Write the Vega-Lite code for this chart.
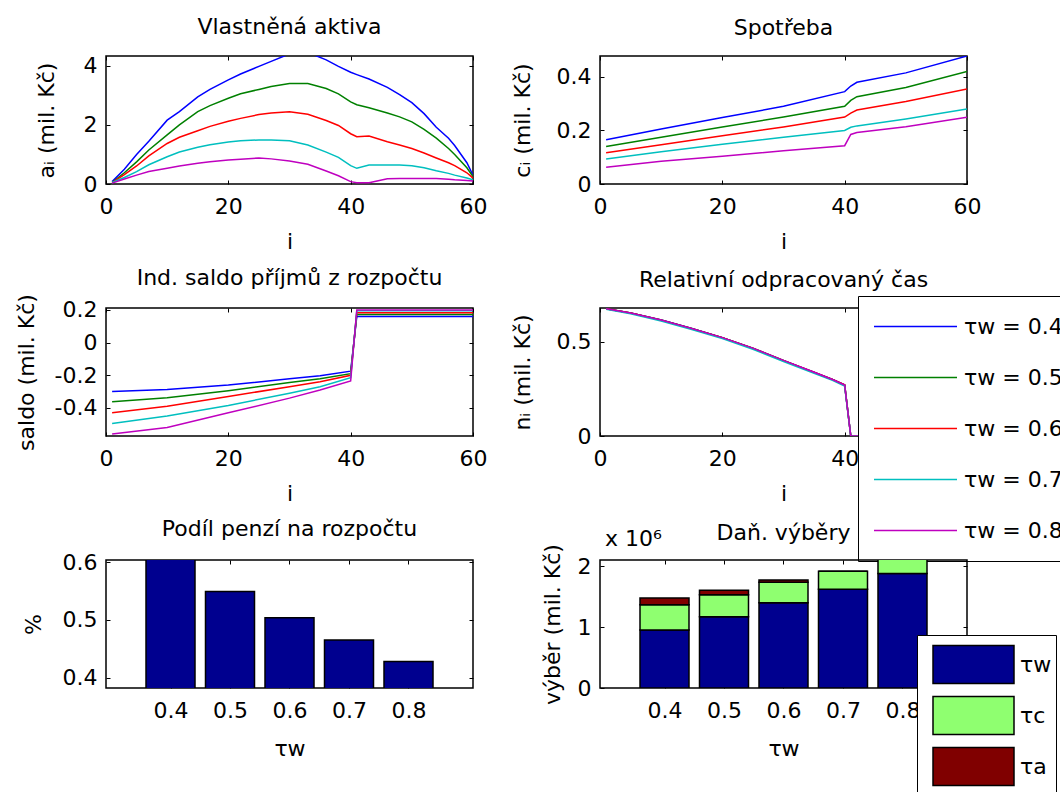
{
  "$schema": "https://vega.github.io/schema/vega-lite/v6.json",
  "autosize": {"type": "none"},
  "padding": {"left": 106, "top": 56, "right": 954, "bottom": 736},
  "background": "white",
  "columns": 2,
  "bounds": "flush",
  "spacing": {"row": 124, "column": 127},
  "config": {
    "font": "DejaVu Sans",
    "view": {"stroke": "black", "strokeWidth": 1.5},
    "axis": {"domain": false, "grid": false, "tickSize": -4, "tickColor": "black", "tickWidth": 1, "labelFont": "DejaVu Sans", "labelFontSize": 22, "labelColor": "black", "titleFont": "DejaVu Sans", "titleFontSize": 22, "titleFontWeight": "normal", "titleColor": "black", "labelFlush": false, "labelOverlap": false, "format": ".1~f"},
    "axisBottom": {"labelPadding": 16, "titleBaseline": "alphabetic", "titleX": 183.5, "titleY": 64},
    "axisLeft": {"labelPadding": 13, "titleBaseline": "alphabetic", "titleY": 64},
    "title": {"font": "DejaVu Sans", "fontSize": 22, "fontWeight": "normal", "color": "black", "baseline": "alphabetic", "frame": "group", "anchor": "middle"}
  },
  "resolve": {"scale": {"color": "independent"}, "legend": {"color": "independent"}},
  "datasets": {
    "A": [
      {"i": 1, "t4": 0.08, "t5": 0.05, "t6": 0.05, "t7": 0.05, "t8": 0.03},
      {"i": 3, "t4": 0.5, "t5": 0.38, "t6": 0.32, "t7": 0.22, "t8": 0.17},
      {"i": 5, "t4": 1.0, "t5": 0.75, "t6": 0.61, "t7": 0.42, "t8": 0.3},
      {"i": 7, "t4": 1.45, "t5": 1.15, "t6": 0.95, "t7": 0.65, "t8": 0.42},
      {"i": 10, "t4": 2.16, "t5": 1.66, "t6": 1.37, "t7": 0.92, "t8": 0.53},
      {"i": 12, "t4": 2.45, "t5": 2.0, "t6": 1.58, "t7": 1.08, "t8": 0.61},
      {"i": 15, "t4": 2.95, "t5": 2.45, "t6": 1.8, "t7": 1.24, "t8": 0.7},
      {"i": 17, "t4": 3.2, "t5": 2.65, "t6": 1.95, "t7": 1.33, "t8": 0.75},
      {"i": 20, "t4": 3.52, "t5": 2.9, "t6": 2.12, "t7": 1.42, "t8": 0.81},
      {"i": 22, "t4": 3.72, "t5": 3.05, "t6": 2.22, "t7": 1.46, "t8": 0.84},
      {"i": 25, "t4": 3.98, "t5": 3.2, "t6": 2.35, "t7": 1.49, "t8": 0.88},
      {"i": 27, "t4": 4.15, "t5": 3.3, "t6": 2.4, "t7": 1.49, "t8": 0.85},
      {"i": 30, "t4": 4.4, "t5": 3.4, "t6": 2.44, "t7": 1.46, "t8": 0.78},
      {"i": 33, "t4": 4.45, "t5": 3.4, "t6": 2.36, "t7": 1.32, "t8": 0.67},
      {"i": 36, "t4": 4.2, "t5": 3.23, "t6": 2.15, "t7": 1.08, "t8": 0.44},
      {"i": 38, "t4": 3.98, "t5": 3.05, "t6": 1.98, "t7": 0.9, "t8": 0.28},
      {"i": 40, "t4": 3.78, "t5": 2.78, "t6": 1.7, "t7": 0.62, "t8": 0.08},
      {"i": 41, "t4": 3.7, "t5": 2.68, "t6": 1.6, "t7": 0.53, "t8": 0.04},
      {"i": 43, "t4": 3.55, "t5": 2.58, "t6": 1.62, "t7": 0.64, "t8": 0.04},
      {"i": 46, "t4": 3.27, "t5": 2.4, "t6": 1.43, "t7": 0.64, "t8": 0.18},
      {"i": 48, "t4": 3.02, "t5": 2.27, "t6": 1.32, "t7": 0.64, "t8": 0.19},
      {"i": 50, "t4": 2.75, "t5": 2.1, "t6": 1.2, "t7": 0.62, "t8": 0.19},
      {"i": 52, "t4": 2.38, "t5": 1.85, "t6": 1.05, "t7": 0.55, "t8": 0.19},
      {"i": 54, "t4": 1.92, "t5": 1.55, "t6": 0.88, "t7": 0.45, "t8": 0.19},
      {"i": 56, "t4": 1.55, "t5": 1.2, "t6": 0.72, "t7": 0.36, "t8": 0.16},
      {"i": 57, "t4": 1.3, "t5": 1.0, "t6": 0.62, "t7": 0.3, "t8": 0.14},
      {"i": 59, "t4": 0.72, "t5": 0.55, "t6": 0.38, "t7": 0.2, "t8": 0.12},
      {"i": 60, "t4": 0.3, "t5": 0.25, "t6": 0.2, "t7": 0.14, "t8": 0.1}
    ],
    "C": [
      {"i": 1, "t4": 0.165, "t5": 0.14, "t6": 0.117, "t7": 0.093, "t8": 0.063},
      {"i": 10, "t4": 0.205, "t5": 0.175, "t6": 0.147, "t7": 0.12, "t8": 0.085},
      {"i": 20, "t4": 0.248, "t5": 0.213, "t6": 0.18, "t7": 0.148, "t8": 0.104},
      {"i": 30, "t4": 0.29, "t5": 0.25, "t6": 0.213, "t7": 0.175, "t8": 0.124},
      {"i": 40, "t4": 0.345, "t5": 0.29, "t6": 0.25, "t7": 0.2, "t8": 0.143},
      {"i": 41, "t4": 0.366, "t5": 0.312, "t6": 0.265, "t7": 0.212, "t8": 0.185},
      {"i": 42, "t4": 0.38, "t5": 0.326, "t6": 0.276, "t7": 0.217, "t8": 0.192},
      {"i": 50, "t4": 0.415, "t5": 0.36, "t6": 0.308, "t7": 0.243, "t8": 0.214},
      {"i": 60, "t4": 0.478, "t5": 0.42, "t6": 0.355, "t7": 0.28, "t8": 0.249}
    ],
    "S": [
      {"i": 1, "t4": -0.3, "t5": -0.362, "t6": -0.43, "t7": -0.495, "t8": -0.56},
      {"i": 10, "t4": -0.287, "t5": -0.337, "t6": -0.39, "t7": -0.45, "t8": -0.52},
      {"i": 20, "t4": -0.26, "t5": -0.295, "t6": -0.33, "t7": -0.385, "t8": -0.43},
      {"i": 30, "t4": -0.222, "t5": -0.245, "t6": -0.27, "t7": -0.31, "t8": -0.34},
      {"i": 35, "t4": -0.203, "t5": -0.222, "t6": -0.24, "t7": -0.27, "t8": -0.29},
      {"i": 40, "t4": -0.175, "t5": -0.19, "t6": -0.2, "t7": -0.215, "t8": -0.235},
      {"i": 41, "t4": 0.16, "t5": 0.172, "t6": 0.183, "t7": 0.195, "t8": 0.2},
      {"i": 60, "t4": 0.16, "t5": 0.172, "t6": 0.183, "t7": 0.195, "t8": 0.2}
    ],
    "N": [
      {"i": 1, "t4": 0.675, "t5": 0.675, "t6": 0.675, "t7": 0.672, "t8": 0.675},
      {"i": 5, "t4": 0.652, "t5": 0.652, "t6": 0.652, "t7": 0.648, "t8": 0.652},
      {"i": 10, "t4": 0.615, "t5": 0.615, "t6": 0.614, "t7": 0.61, "t8": 0.615},
      {"i": 15, "t4": 0.57, "t5": 0.57, "t6": 0.569, "t7": 0.565, "t8": 0.57},
      {"i": 20, "t4": 0.522, "t5": 0.522, "t6": 0.521, "t7": 0.517, "t8": 0.522},
      {"i": 25, "t4": 0.465, "t5": 0.466, "t6": 0.465, "t7": 0.46, "t8": 0.466},
      {"i": 30, "t4": 0.4, "t5": 0.401, "t6": 0.4, "t7": 0.395, "t8": 0.401},
      {"i": 35, "t4": 0.338, "t5": 0.336, "t6": 0.338, "t7": 0.333, "t8": 0.338},
      {"i": 38, "t4": 0.3, "t5": 0.3, "t6": 0.3, "t7": 0.296, "t8": 0.3},
      {"i": 40, "t4": 0.27, "t5": 0.27, "t6": 0.272, "t7": 0.265, "t8": 0.27},
      {"i": 41, "t4": 0, "t5": 0, "t6": 0, "t7": 0, "t8": 0},
      {"i": 60, "t4": 0, "t5": 0, "t6": 0, "t7": 0, "t8": 0}
    ],
    "P": [
      {"tau": 0.4, "v": 0.615},
      {"tau": 0.5, "v": 0.549},
      {"tau": 0.6, "v": 0.5035},
      {"tau": 0.7, "v": 0.465},
      {"tau": 0.8, "v": 0.428}
    ],
    "T": [
      {"tau": 0.4, "c": "w", "k": 1, "v": 950000},
      {"tau": 0.4, "c": "c", "k": 2, "v": 417000},
      {"tau": 0.4, "c": "a", "k": 3, "v": 111000},
      {"tau": 0.5, "c": "w", "k": 1, "v": 1170000},
      {"tau": 0.5, "c": "c", "k": 2, "v": 360000},
      {"tau": 0.5, "c": "a", "k": 3, "v": 75000},
      {"tau": 0.6, "c": "w", "k": 1, "v": 1400000},
      {"tau": 0.6, "c": "c", "k": 2, "v": 333000},
      {"tau": 0.6, "c": "a", "k": 3, "v": 40000},
      {"tau": 0.7, "c": "w", "k": 1, "v": 1620000},
      {"tau": 0.7, "c": "c", "k": 2, "v": 295000},
      {"tau": 0.7, "c": "a", "k": 3, "v": 0},
      {"tau": 0.8, "c": "w", "k": 1, "v": 1880000},
      {"tau": 0.8, "c": "c", "k": 2, "v": 260000},
      {"tau": 0.8, "c": "a", "k": 3, "v": 0}
    ]
  },
  "concat": [
    {
      "width": 367, "height": 128,
      "title": {"text": "Vlastněná aktiva", "offset": 13},
      "data": {"name": "A"},
      "transform": [{"fold": ["t4", "t5", "t6", "t7", "t8"], "as": ["s", "v"]}],
      "layer": [
        {
          "mark": {"type": "line", "strokeWidth": 1.5, "clip": true},
          "encoding": {
            "x": {"field": "i", "type": "quantitative", "scale": {"domain": [0, 60], "nice": false}, "axis": {"values": [0, 20, 40, 60], "title": "i"}},
            "y": {"field": "v", "type": "quantitative", "scale": {"domain": [0, 4.33], "nice": false, "zero": false}, "axis": {"values": [0, 2, 4], "title": "aᵢ (mil. Kč)", "titleX": -53}},
            "color": {"field": "s", "type": "nominal", "scale": {"domain": ["t4", "t5", "t6", "t7", "t8"], "range": ["#0000ff", "#008000", "#ff0000", "#00bfbf", "#bf00bf"]}, "legend": null}
          }
        },
        {
          "mark": {"type": "line", "opacity": 0},
          "encoding": {
            "x": {"field": "i", "type": "quantitative", "axis": {"orient": "top", "values": [0, 20, 40, 60], "labels": false, "title": null}},
            "y": {"field": "v", "type": "quantitative", "axis": {"orient": "right", "values": [0, 2, 4], "labels": false, "title": null}}
          }
        }
      ],
      "resolve": {"axis": {"x": "independent", "y": "independent"}}
    },
    {
      "width": 367, "height": 128,
      "title": {"text": "Spotřeba", "offset": 16},
      "data": {"name": "C"},
      "transform": [{"fold": ["t4", "t5", "t6", "t7", "t8"], "as": ["s", "v"]}],
      "layer": [
        {
          "mark": {"type": "line", "strokeWidth": 1.5, "clip": true},
          "encoding": {
            "x": {"field": "i", "type": "quantitative", "scale": {"domain": [0, 60], "nice": false}, "axis": {"values": [0, 20, 40, 60], "title": "i"}},
            "y": {"field": "v", "type": "quantitative", "scale": {"domain": [0, 0.478], "nice": false, "zero": false}, "axis": {"values": [0, 0.2, 0.4], "title": "cᵢ (mil. Kč)", "titleX": -71}},
            "color": {"field": "s", "type": "nominal", "scale": {"domain": ["t4", "t5", "t6", "t7", "t8"], "range": ["#0000ff", "#008000", "#ff0000", "#00bfbf", "#bf00bf"]}, "legend": null}
          }
        },
        {
          "mark": {"type": "line", "opacity": 0},
          "encoding": {
            "x": {"field": "i", "type": "quantitative", "axis": {"orient": "top", "values": [0, 20, 40, 60], "labels": false, "title": null}},
            "y": {"field": "v", "type": "quantitative", "axis": {"orient": "right", "values": [0, 0.2, 0.4], "labels": false, "title": null}}
          }
        }
      ],
      "resolve": {"axis": {"x": "independent", "y": "independent"}}
    },
    {
      "width": 367, "height": 128,
      "title": {"text": "Ind. saldo příjmů z rozpočtu", "offset": 4},
      "data": {"name": "S"},
      "transform": [{"fold": ["t4", "t5", "t6", "t7", "t8"], "as": ["s", "v"]}],
      "layer": [
        {
          "mark": {"type": "line", "strokeWidth": 1.5, "clip": true},
          "encoding": {
            "x": {"field": "i", "type": "quantitative", "scale": {"domain": [0, 60], "nice": false}, "axis": {"values": [0, 20, 40, 60], "title": "i"}},
            "y": {"field": "v", "type": "quantitative", "scale": {"domain": [-0.572, 0.212], "nice": false, "zero": false}, "axis": {"values": [-0.4, -0.2, 0, 0.2], "labelExpr": "replace(datum.label, '−', '-')", "title": "saldo (mil. Kč)", "titleX": -73}},
            "color": {"field": "s", "type": "nominal", "scale": {"domain": ["t4", "t5", "t6", "t7", "t8"], "range": ["#0000ff", "#008000", "#ff0000", "#00bfbf", "#bf00bf"]}, "legend": null}
          }
        },
        {
          "mark": {"type": "line", "opacity": 0},
          "encoding": {
            "x": {"field": "i", "type": "quantitative", "axis": {"orient": "top", "values": [0, 20, 40, 60], "labels": false, "title": null}},
            "y": {"field": "v", "type": "quantitative", "axis": {"orient": "right", "values": [-0.4, -0.2, 0, 0.2], "labels": false, "title": null}}
          }
        }
      ],
      "resolve": {"axis": {"x": "independent", "y": "independent"}}
    },
    {
      "width": 367, "height": 128,
      "title": {"text": "Relativní odpracovaný čas", "offset": 4},
      "data": {"name": "N"},
      "transform": [{"fold": ["t4", "t5", "t6", "t7", "t8"], "as": ["s", "v"]}],
      "layer": [
        {
          "mark": {"type": "line", "strokeWidth": 1.5, "clip": true},
          "encoding": {
            "x": {"field": "i", "type": "quantitative", "scale": {"domain": [0, 60], "nice": false}, "axis": {"values": [0, 20, 40, 60], "title": "i"}},
            "y": {"field": "v", "type": "quantitative", "scale": {"domain": [0, 0.679], "nice": false, "zero": false}, "axis": {"values": [0, 0.5], "title": "nᵢ (mil. Kč)", "titleX": -71}},
            "color": {
              "field": "s", "type": "nominal",
              "scale": {"domain": ["t4", "t5", "t6", "t7", "t8"], "range": ["#0000ff", "#008000", "#ff0000", "#00bfbf", "#bf00bf"]},
              "legend": {"orient": "none", "legendX": 258, "legendY": -12, "title": null, "symbolType": "stroke", "symbolSize": 6889, "symbolStrokeWidth": 1.5, "clipHeight": 51, "rowPadding": 0, "padding": 5, "symbolOffset": 10, "labelOffset": 6, "labelFont": "DejaVu Sans", "labelFontSize": 22, "labelColor": "black", "strokeColor": "black", "fillColor": "white", "labelExpr": "'τw = 0.' + substring(datum.value, 1, 2)"}
            }
          }
        },
        {
          "mark": {"type": "line", "opacity": 0},
          "encoding": {
            "x": {"field": "i", "type": "quantitative", "axis": {"orient": "top", "values": [0, 20, 40, 60], "labels": false, "title": null}},
            "y": {"field": "v", "type": "quantitative", "axis": {"orient": "right", "values": [0, 0.5], "labels": false, "title": null}}
          }
        }
      ],
      "resolve": {"axis": {"x": "independent", "y": "independent"}}
    },
    {
      "width": 367, "height": 128,
      "title": {"text": "Podíl penzí na rozpočtu", "offset": 10},
      "data": {"name": "P"},
      "layer": [
        {
          "mark": {"type": "bar", "size": 49, "clip": true, "color": "#00008f", "stroke": "black", "strokeWidth": 1.5},
          "encoding": {
            "x": {"field": "tau", "type": "quantitative", "scale": {"domain": [0.3, 0.9], "nice": false}, "axis": {"values": [0.4, 0.5, 0.6, 0.7, 0.8], "title": "τw", "titleY": 67}},
            "y": {"field": "v", "type": "quantitative", "scale": {"domain": [0.382, 0.6035], "nice": false, "zero": false}, "axis": {"values": [0.4, 0.5, 0.6], "title": "%", "titleX": -66}}
          }
        },
        {
          "mark": {"type": "point", "opacity": 0},
          "encoding": {
            "x": {"field": "tau", "type": "quantitative", "axis": {"orient": "top", "values": [0.4, 0.5, 0.6, 0.7, 0.8], "labels": false, "title": null}},
            "y": {"field": "v", "type": "quantitative", "axis": {"orient": "right", "values": [0.4, 0.5, 0.6], "labels": false, "title": null}}
          }
        }
      ],
      "resolve": {"axis": {"x": "independent", "y": "independent"}}
    },
    {
      "width": 367, "height": 128,
      "title": {"text": "Daň. výběry", "offset": -17},
      "layer": [
        {
          "data": {"name": "T"},
          "mark": {"type": "bar", "size": 49, "clip": true, "stroke": "black", "strokeWidth": 1.5},
          "encoding": {
            "x": {"field": "tau", "type": "quantitative", "scale": {"domain": [0.3, 0.9], "nice": false}, "axis": {"values": [0.4, 0.5, 0.6, 0.7, 0.8], "title": "τw", "titleY": 67}},
            "y": {"field": "v", "type": "quantitative", "stack": "zero", "scale": {"domain": [0, 2100000], "nice": false}, "axis": {"values": [0, 1000000, 2000000], "labelExpr": "format(datum.value / 1000000, '~g')", "title": "výběr (mil. Kč)", "titleX": -41}},
            "color": {
              "field": "c", "type": "nominal",
              "scale": {"domain": ["w", "c", "a"], "range": ["#00008f", "#8fff70", "#800000"]},
              "legend": {"orient": "none", "legendX": 317, "legendY": 75, "title": null, "symbolType": "M-1,-0.47H1V0.47H-1Z", "symbolSize": 6561, "symbolStrokeColor": "black", "symbolStrokeWidth": 1.5, "clipHeight": 51, "rowPadding": 0, "padding": 4, "symbolOffset": 11, "labelOffset": 5, "labelFont": "DejaVu Sans", "labelFontSize": 22, "labelColor": "black", "strokeColor": "black", "fillColor": "white", "labelExpr": "'τ' + datum.value"}
            },
            "order": {"field": "k", "type": "quantitative"}
          }
        },
        {
          "data": {"name": "T"},
          "mark": {"type": "point", "opacity": 0},
          "encoding": {
            "x": {"field": "tau", "type": "quantitative", "axis": {"orient": "top", "values": [0.4, 0.5, 0.6, 0.7, 0.8], "labels": false, "title": null}},
            "y": {"field": "v", "type": "quantitative", "axis": {"orient": "right", "values": [0, 1000000, 2000000], "labels": false, "title": null}}
          }
        },
        {
          "data": {"values": [{"t": "x 10⁶"}]},
          "mark": {"type": "text", "align": "left", "baseline": "alphabetic", "dy": -14, "fontSize": 22, "font": "DejaVu Sans", "color": "black"},
          "encoding": {
            "text": {"field": "t"},
            "x": {"datum": 0.3, "type": "quantitative", "axis": null},
            "y": {"datum": 2100000, "type": "quantitative", "axis": null}
          }
        }
      ],
      "resolve": {"axis": {"x": "independent", "y": "independent"}}
    }
  ]
}
